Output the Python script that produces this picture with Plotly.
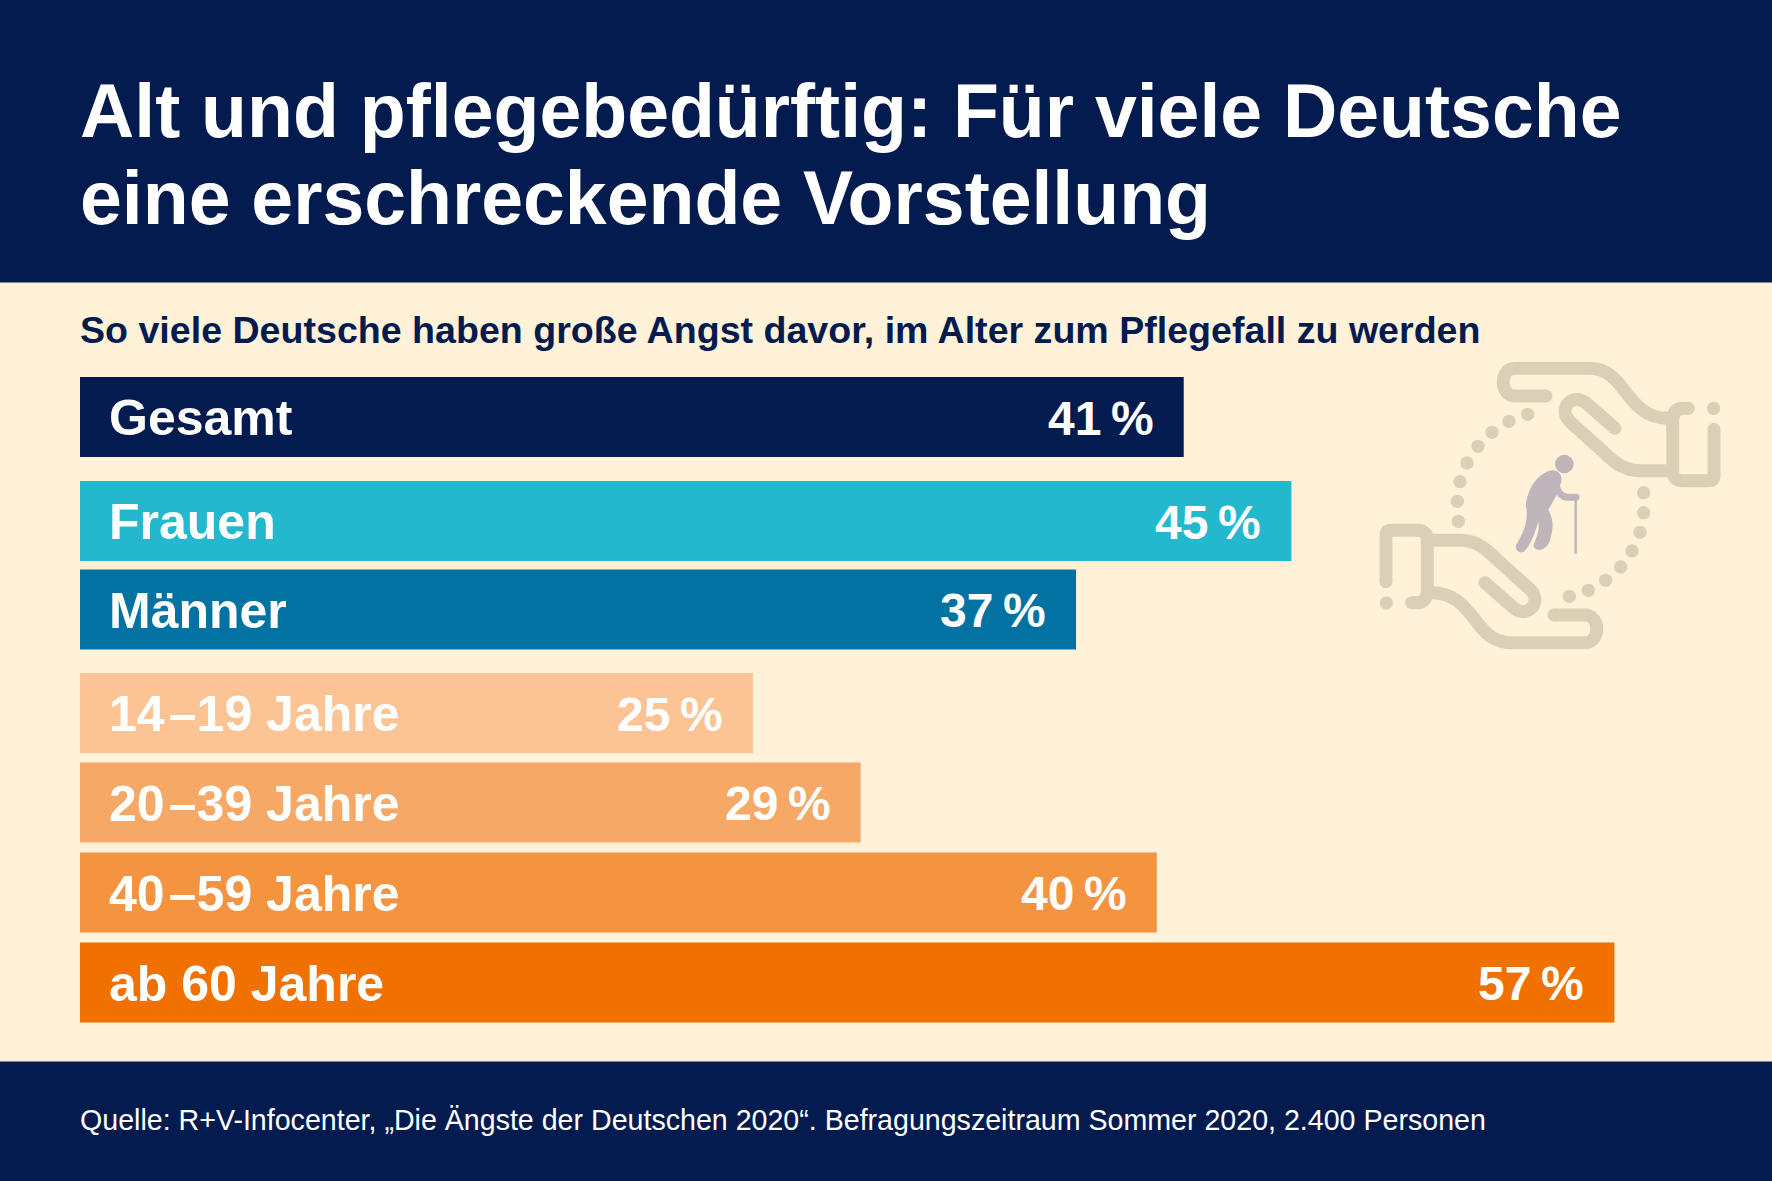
import plotly.graph_objects as go

# werte aus der grafik
categories = ["Gesamt", "Frauen", "Männer", "14\u200a–19 Jahre", "20\u200a–39 Jahre", "40\u200a–59 Jahre", "ab 60 Jahre"]
values = [41, 45, 37, 25, 29, 40, 57]
value_labels = ["41\u2009%", "45\u2009%", "37\u2009%", "25\u2009%", "29\u2009%", "40\u2009%", "57\u2009%"]

title_lines = ["Alt und pflegebedürftig: Für viele Deutsche", "eine erschreckende Vorstellung"]
subtitle = "So viele Deutsche haben große Angst davor, im Alter zum Pflegefall zu werden"
source = "Quelle: R+V-Infocenter, „Die Ängste der Deutschen 2020“. Befragungszeitraum Sommer 2020, 2.400 Personen"

# layout: die y-achse laeuft in pixeln, die x-achse in prozent
WIDTH = 1772
HEIGHT = 1181
BAR_LEFT = 80
PX_PER_PCT = 26.92
bar_rows = [417, 521, 609.5, 713, 802.5, 892.5, 982.5]
bar_height = 80
bar_colors = ["#041B50", "#23B8CE", "#0272A2", "#FCC495", "#F6A866", "#F49340", "#F07000"]

NAVY = "#041B50"
CREAM = "#FFF2D8"
HAND = "#DCCFB8"
PERSON = "#BFB6BC"
FONT = "Liberation Sans"


def pct(px):
	return (px - BAR_LEFT) / PX_PER_PCT


# icon-koordinaten kommen aus dem 3x-ausschnitt, ursprung (1340, 340)
def ix(z):
	return pct(1340 + z / 3)


def iy(z):
	return 340 + z / 3


def to_path(cmds):
	out = []
	for cmd in cmds:
		letter, pts = cmd[0], cmd[1:]
		out.append(letter + " " + " ".join(f"{ix(p[0]):.4f},{iy(p[1]):.2f}" for p in pts))
	return " ".join(out)


def flip(cmds):
	# untere hand = obere hand um 180 grad gedreht
	return [(c[0], *[(1260 - p[0], 993 - p[1]) for p in c[1:]]) for c in cmds]


def dot(z, r, color):
	return dict(type="circle", xref="x", yref="y", x0=ix(z[0] - r), x1=ix(z[0] + r), y0=iy(z[1] - r), y1=iy(z[1] + r),
				fillcolor=color, line_width=0, layer="below")


def stroke(cmds, width, color, caps=True):
	shapes = [dict(type="path", xref="x", yref="y", path=to_path(cmds), line=dict(color=color, width=width), layer="below")]
	if caps:
		shapes.append(dot(cmds[0][1], width * 1.5, color))
		shapes.append(dot(cmds[-1][-1], width * 1.5, color))
	return shapes


def label(x, y, text, size, color, anchor="left", shift=0, bold=True):
	return dict(x=x, y=y, text=text, xanchor=anchor, xshift=shift, yanchor="middle", xref="x", yref="y", showarrow=False,
				borderpad=0, borderwidth=0,
				font=dict(family=FONT, size=size, color=color, weight="bold" if bold else "normal"))


hand_outer = [("M", (618, 168)), ("L", (525, 168)), ("C", (478, 168), (478, 85), (525, 85)), ("L", (745, 85)),
			  ("C", (790, 85), (815, 105), (840, 135)), ("C", (880, 185), (910, 235), (985, 235))]
hand_finger = [("M", (825, 265)), ("L", (740, 190)), ("C", (700, 155), (650, 205), (690, 245)), ("L", (790, 335)),
			   ("C", (820, 365), (850, 392), (900, 392)), ("L", (998, 392))]
hand_cuff = [("M", (1045, 205)), ("L", (1028, 205)), ("C", (1008, 205), (998, 220), (998, 240)), ("L", (998, 392)),
			 ("C", (998, 412), (1008, 422), (1028, 422)), ("L", (1105, 422)), ("C", (1118, 422), (1122, 418), (1122, 405)),
			 ("L", (1122, 268))]
dots = [(563, 223), (507, 244), (456, 277), (414, 319), (381, 369), (360, 425), (352, 484), (355, 544),
		(688, 769), (745, 751), (797, 721), (842, 681), (876, 633), (900, 577), (911, 518), (911, 458),
		(1121, 205), (139, 789)]

shapes = [
	dict(type="rect", xref="paper", yref="y", x0=0, x1=1, y0=0, y1=282.5, fillcolor=NAVY, line_width=0, layer="below"),
	dict(type="rect", xref="paper", yref="y", x0=0, x1=1, y0=1061.5, y1=HEIGHT, fillcolor=NAVY, line_width=0, layer="below"),
]
for part in [hand_outer, hand_finger, hand_cuff]:
	shapes += stroke(part, 13, HAND)
	shapes += stroke(flip(part), 13, HAND)
for d in dots:
	shapes.append(dot(d, 20, HAND))

# die figur
shapes.append(dot((673, 372), 28, PERSON))
shapes += stroke([("M", (640, 425)), ("C", (610, 430), (590, 465), (585, 505))], 19, PERSON, caps=False)
shapes.append(dict(type="path", xref="x", yref="y", layer="below", fillcolor=PERSON, line_width=0, path=to_path([
	("M", (625, 393)), ("C", (650, 385), (665, 400), (665, 420)), ("L", (655, 455)), ("L", (625, 510)),
	("C", (640, 535), (642, 560), (630, 600)), ("C", (622, 630), (590, 640), (580, 618)), ("C", (590, 590), (600, 570), (595, 545)),
	("C", (585, 580), (570, 620), (550, 636)), ("C", (535, 642), (522, 625), (530, 612)), ("C", (555, 570), (565, 540), (558, 495)),
	("C", (562, 450), (585, 410), (625, 393)), ("Z",),
])))
shapes += stroke([("M", (648, 435)), ("C", (655, 460), (665, 472), (685, 472)), ("L", (708, 472))], 7, PERSON)
shapes += stroke([("M", (707, 482)), ("L", (707, 641))], 2.5, PERSON, caps=False)

annotations = []
for line, y in zip(title_lines, [111, 198]):
	annotations.append(label(0, y, line, 75.2, "white"))
annotations.append(label(0, 330, subtitle, 37.6, NAVY))
annotations.append(label(0, 1120, source, 28.6, "white", bold=False))
for cat, val, lab, row in zip(categories, values, value_labels, bar_rows):
	annotations.append(label(0, row + 1, cat, 50, "white", shift=29))
	annotations.append(label(val, row + 1, lab, 48, "white", anchor="right", shift=-30))

fig = go.Figure(go.Bar(x=values, y=bar_rows, orientation="h", width=bar_height, marker=dict(color=bar_colors, line_width=0),
					   hoverinfo="skip"))
fig.update_layout(
	width=WIDTH,
	height=HEIGHT,
	margin=dict(l=0, r=0, t=0, b=0),
	paper_bgcolor=CREAM,
	plot_bgcolor="rgba(0,0,0,0)",
	showlegend=False,
	shapes=shapes,
	annotations=annotations,
	xaxis=dict(range=[pct(0), pct(WIDTH)], visible=False),
	yaxis=dict(range=[HEIGHT, 0], visible=False),
)
fig.write_html("out.html", post_script="document.body.style.margin='0';", config=dict(displayModeBar=False))
